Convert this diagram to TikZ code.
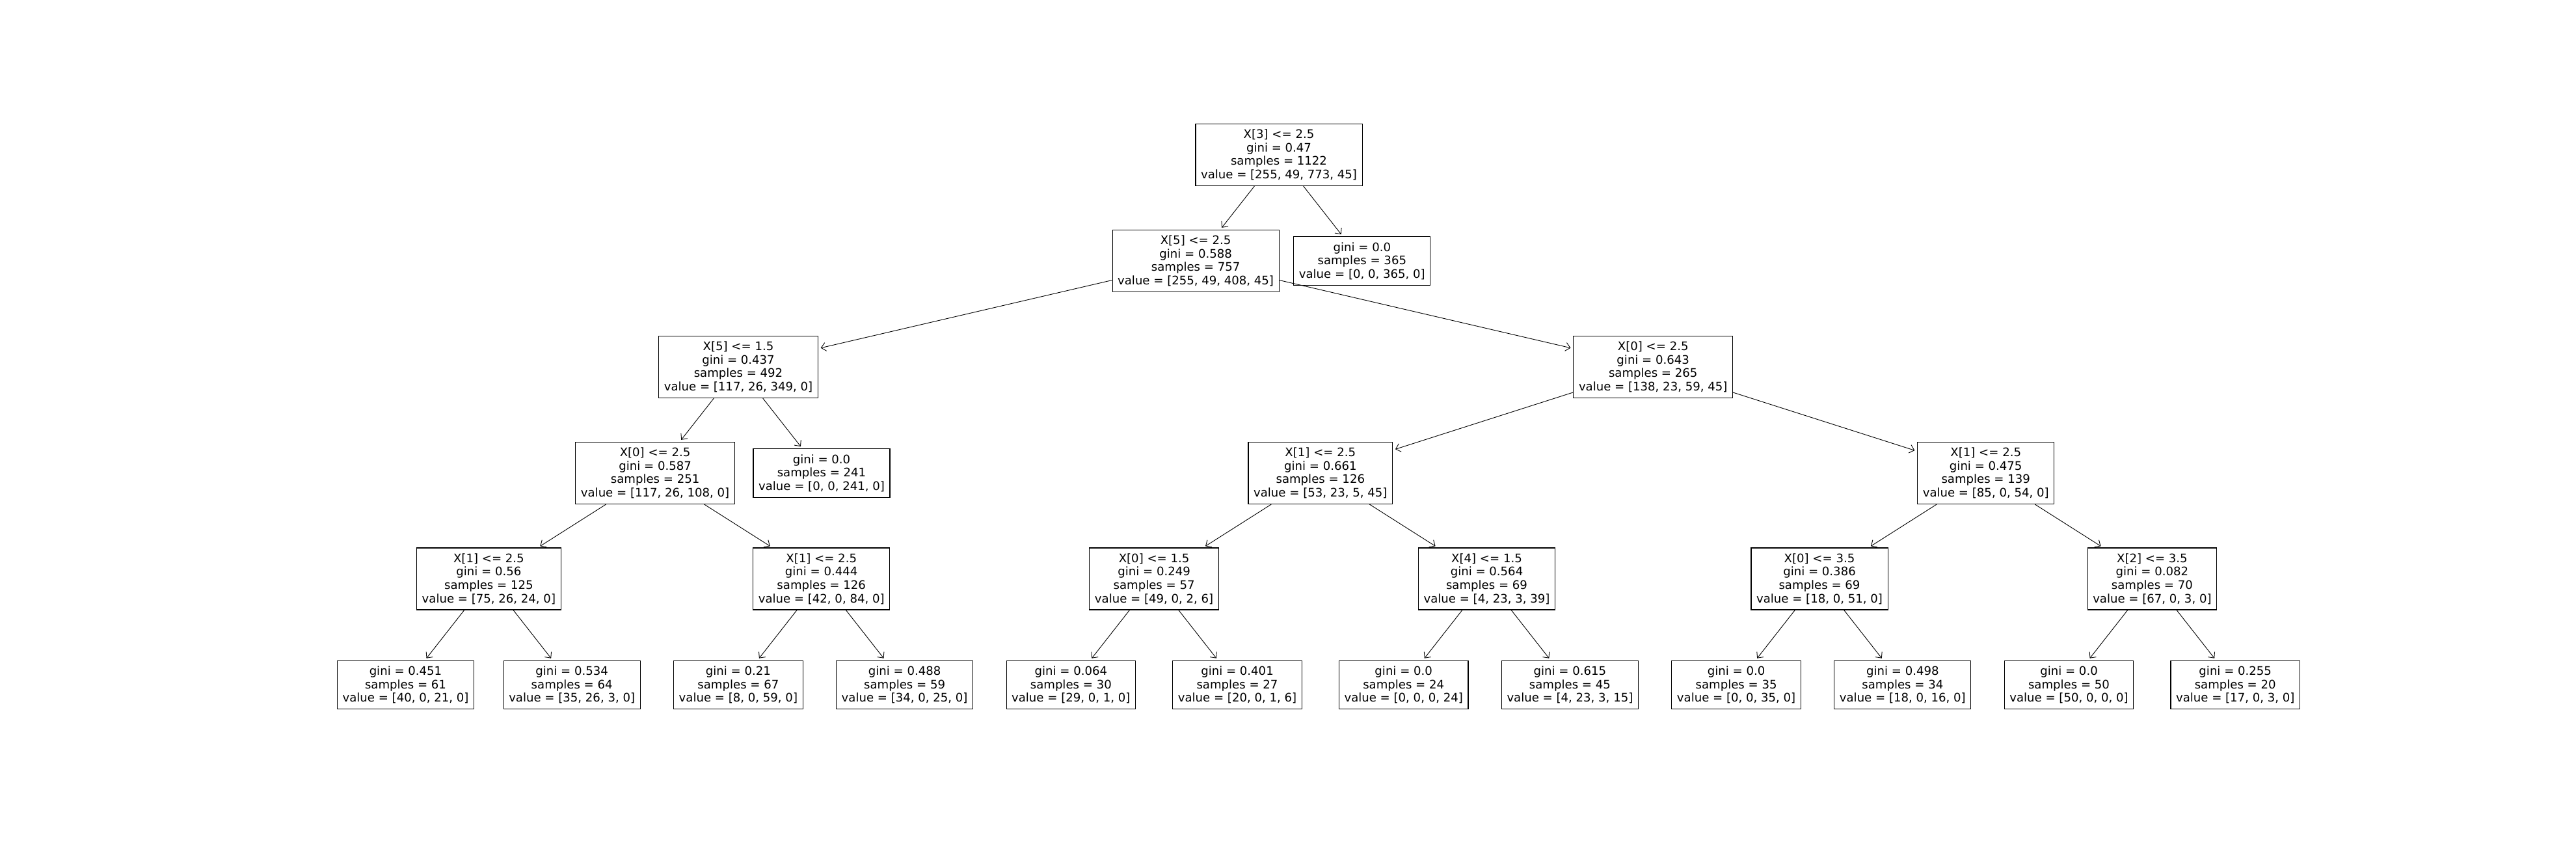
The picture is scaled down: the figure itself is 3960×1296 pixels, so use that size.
\documentclass[tikz,border=0pt]{standalone}
\usepackage{fontspec}
\setmainfont{DejaVu Sans}
\usetikzlibrary{arrows.meta}
\begin{document}
\begin{tikzpicture}[x=1pt,y=-1pt,
  tnode/.style={draw=black, line width=1.1pt, fill=white, align=center,
    inner xsep=8.1pt, inner ysep=8.5pt,
    font=\fontsize{18.1}{20.6}\selectfont},
  edge/.style={line width=0.9pt, -{Straight Barb[length=7pt,width=13pt,line width=0.9pt]}, shorten >=4pt}]
\fill[white] (0,0) rectangle (3960,1296);
\useasboundingbox (0,0) rectangle (3960,1296);
% level 0
\node[tnode] (n0) at (1966,238) {X[3] <= 2.5\\gini = 0.47\\samples = 1122\\value = [255, 49, 773, 45]};
% level 1
\node[tnode] (n1) at (1838.1,401) {X[5] <= 2.5\\gini = 0.588\\samples = 757\\value = [255, 49, 408, 45]};
\node[tnode] (n2) at (2093.8,401) {gini = 0.0\\samples = 365\\value = [0, 0, 365, 0]};
% level 2
\node[tnode] (n3) at (1135,564) {X[5] <= 1.5\\gini = 0.437\\samples = 492\\value = [117, 26, 349, 0]};
\node[tnode] (n4) at (2541.2,564) {X[0] <= 2.5\\gini = 0.643\\samples = 265\\value = [138, 23, 59, 45]};
% level 3
\node[tnode] (n5) at (1007.1,727) {X[0] <= 2.5\\gini = 0.587\\samples = 251\\value = [117, 26, 108, 0]};
\node[tnode] (n6) at (1263,727) {gini = 0.0\\samples = 241\\value = [0, 0, 241, 0]};
\node[tnode] (n7) at (2029.8,727) {X[1] <= 2.5\\gini = 0.661\\samples = 126\\value = [53, 23, 5, 45]};
\node[tnode] (n8) at (3052.7,727) {X[1] <= 2.5\\gini = 0.475\\samples = 139\\value = [85, 0, 54, 0]};
% level 4
\node[tnode] (n9) at (751.4,889.5) {X[1] <= 2.5\\gini = 0.56\\samples = 125\\value = [75, 26, 24, 0]};
\node[tnode] (n10) at (1262.7,889.5) {X[1] <= 2.5\\gini = 0.444\\samples = 126\\value = [42, 0, 84, 0]};
\node[tnode] (n11) at (1774.1,889.5) {X[0] <= 1.5\\gini = 0.249\\samples = 57\\value = [49, 0, 2, 6]};
\node[tnode] (n12) at (2285.5,889.5) {X[4] <= 1.5\\gini = 0.564\\samples = 69\\value = [4, 23, 3, 39]};
\node[tnode] (n13) at (2797,889.5) {X[0] <= 3.5\\gini = 0.386\\samples = 69\\value = [18, 0, 51, 0]};
\node[tnode] (n14) at (3308.4,889.5) {X[2] <= 3.5\\gini = 0.082\\samples = 70\\value = [67, 0, 3, 0]};
% level 5
\node[tnode] (n15) at (623.5,1052.5) {gini = 0.451\\samples = 61\\value = [40, 0, 21, 0]};
\node[tnode] (n16) at (879.2,1052.5) {gini = 0.534\\samples = 64\\value = [35, 26, 3, 0]};
\node[tnode] (n17) at (1134.9,1052.5) {gini = 0.21\\samples = 67\\value = [8, 0, 59, 0]};
\node[tnode] (n18) at (1390.6,1052.5) {gini = 0.488\\samples = 59\\value = [34, 0, 25, 0]};
\node[tnode] (n19) at (1646.3,1052.5) {gini = 0.064\\samples = 30\\value = [29, 0, 1, 0]};
\node[tnode] (n20) at (1902,1052.5) {gini = 0.401\\samples = 27\\value = [20, 0, 1, 6]};
\node[tnode] (n21) at (2157.7,1052.5) {gini = 0.0\\samples = 24\\value = [0, 0, 0, 24]};
\node[tnode] (n22) at (2413.4,1052.5) {gini = 0.615\\samples = 45\\value = [4, 23, 3, 15]};
\node[tnode] (n23) at (2669.1,1052.5) {gini = 0.0\\samples = 35\\value = [0, 0, 35, 0]};
\node[tnode] (n24) at (2924.8,1052.5) {gini = 0.498\\samples = 34\\value = [18, 0, 16, 0]};
\node[tnode] (n25) at (3180.5,1052.5) {gini = 0.0\\samples = 50\\value = [50, 0, 0, 0]};
\node[tnode] (n26) at (3436.2,1052.5) {gini = 0.255\\samples = 20\\value = [17, 0, 3, 0]};
% edges
\draw[edge] (n0) -- (n1);
\draw[edge] (n0) -- (n2);
\draw[edge] (n1) -- (n3);
\draw[edge] (n1) -- (n4);
\draw[edge] (n3) -- (n5);
\draw[edge] (n3) -- (n6);
\draw[edge] (n4) -- (n7);
\draw[edge] (n4) -- (n8);
\draw[edge] (n5) -- (n9);
\draw[edge] (n5) -- (n10);
\draw[edge] (n7) -- (n11);
\draw[edge] (n7) -- (n12);
\draw[edge] (n8) -- (n13);
\draw[edge] (n8) -- (n14);
\draw[edge] (n9) -- (n15);
\draw[edge] (n9) -- (n16);
\draw[edge] (n10) -- (n17);
\draw[edge] (n10) -- (n18);
\draw[edge] (n11) -- (n19);
\draw[edge] (n11) -- (n20);
\draw[edge] (n12) -- (n21);
\draw[edge] (n12) -- (n22);
\draw[edge] (n13) -- (n23);
\draw[edge] (n13) -- (n24);
\draw[edge] (n14) -- (n25);
\draw[edge] (n14) -- (n26);
\end{tikzpicture}
\end{document}
